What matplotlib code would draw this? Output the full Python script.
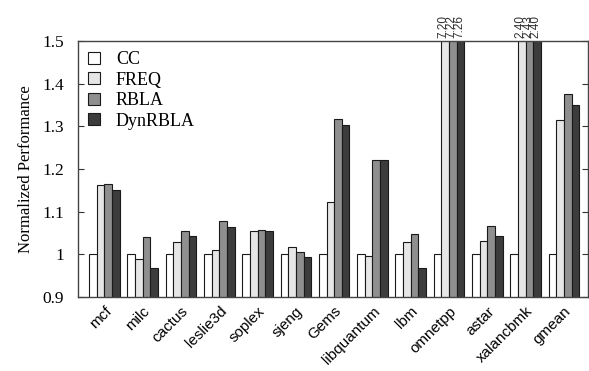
import matplotlib
matplotlib.use('Agg')
import matplotlib.pyplot as plt
import numpy as np

benchmarks = ['mcf', 'milc', 'cactus', 'leslie3d', 'soplex', 'sjeng', 'Gems',
              'libquantum', 'lbm', 'omnetpp', 'astar', 'xalancbmk', 'gmean']
cc = [1.0] * 13
freq = [1.162, 0.988, 1.030, 1.009, 1.055, 1.016, 1.123, 0.995, 1.030, 7.20, 1.032, 2.40, 1.314]
rbla = [1.165, 1.041, 1.055, 1.079, 1.057, 1.005, 1.316, 1.222, 1.047, 7.22, 1.066, 2.43, 1.376]
dynrbla = [1.150, 0.969, 1.042, 1.063, 1.055, 0.993, 1.303, 1.222, 0.968, 7.26, 1.042, 2.40, 1.350]

series = [('CC', cc, 'white'),
          ('FREQ', freq, '#e6e6e6'),
          ('RBLA', rbla, '#8f8f8f'),
          ('DynRBLA', dynrbla, '#3c3c3c')]

serif = 'Liberation Serif'
sans = 'Liberation Sans'

fig = plt.figure(figsize=(5.89, 3.71), dpi=100)
ax = fig.add_axes([0.1324, 0.1995, 0.866, 0.69])

x = np.arange(len(benchmarks))
w = 0.2
ymax = 1.5
for i, (name, vals, col) in enumerate(series):
    pos = x + (i - 1.5) * w
    ax.bar(pos, vals, w, color=col, edgecolor='#1a1a1a', linewidth=0.8, label=name)
    # values past the top get written above the axes
    for p, v in zip(pos, vals):
        if v > ymax:
            ax.annotate('%.2f' % v, (p, ymax), xytext=(-1, 2), textcoords='offset points',
                        rotation=90, ha='center', va='bottom', fontsize=8.5,
                        family=sans, color='#333333', annotation_clip=False)

ax.set_xlim(-0.69, 12.63)
ax.set_ylim(0.9, ymax)
ax.set_yticks([0.9, 1.0, 1.1, 1.2, 1.3, 1.4, 1.5])
ax.set_yticklabels(['0.9', '1', '1.1', '1.2', '1.3', '1.4', '1.5'], family=serif, fontsize=12.5)
ax.set_xticks(x)
ax.set_xticklabels(benchmarks, rotation=45, ha='right', rotation_mode='anchor',
                   family=sans, fontsize=11)
ax.tick_params(axis='x', length=0, pad=5)
ax.tick_params(axis='y', direction='in', length=4, right=True, width=0.8, colors='#333333',
               labelcolor='black', pad=10)
ax.set_ylabel('Normalized Performance', family=serif, fontsize=12, labelpad=6)

for s in ax.spines.values():
    s.set_color('#444444')
    s.set_linewidth(1.0)

ax.legend(loc='upper left', frameon=False, prop={'family': serif, 'size': 13},
          handlelength=0.65, handleheight=0.65, labelspacing=0.2, handletextpad=0.9,
          borderaxespad=0.15, bbox_to_anchor=(0.0, 1.0))

fig.savefig('out.png', dpi=100)
